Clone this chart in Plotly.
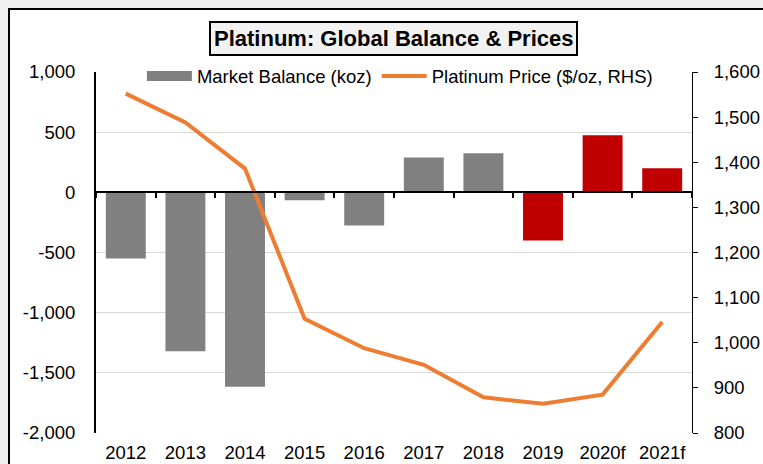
import plotly.graph_objects as go

categories = ["2012", "2013", "2014", "2015", "2016", "2017", "2018", "2019", "2020f", "2021f"]
balance = [-550, -1320, -1615, -65, -275, 290, 325, -400, 475, 200]
bar_colors = ["#808080"] * 7 + ["#c00000"] * 3
price = [1552, 1488, 1386, 1053, 988, 951, 879, 865, 885, 1046]

left_ticks = [-2000, -1500, -1000, -500, 0, 500, 1000]
left_labels = ["-2,000", "-1,500", "-1,000", "-500", "0", "500", "1,000"]
right_ticks = [800, 900, 1000, 1100, 1200, 1300, 1400, 1500, 1600]
right_labels = ["800", "900", "1,000", "1,100", "1,200", "1,300", "1,400", "1,500", "1,600"]

left_range = [-2000, 1000]
right_range = [800, 1600]

FONT = "Liberation Sans, Arial, sans-serif"
FS = 18.5

fig = go.Figure()
fig.add_trace(go.Bar(
    x=categories, y=balance, name="Market Balance (koz)",
    marker=dict(color=bar_colors, line=dict(width=0)),
    xaxis="x", yaxis="y", showlegend=False,
))
# legend-only entry giving the wide rectangular swatch for the bars
fig.add_trace(go.Scatter(
    x=[None], y=[None], name="Market Balance (koz)", mode="lines",
    line=dict(color="#808080", width=11), xaxis="x", yaxis="y",
    hoverinfo="skip", legendrank=1,
))
fig.add_trace(go.Scatter(
    x=categories, y=price, name="Platinum Price ($/oz, RHS)",
    mode="lines", line=dict(color="#ed7d31", width=4),
    xaxis="x", yaxis="y2", legendrank=2,
))
# helper trace for the zero-line category axis
fig.add_trace(go.Scatter(
    x=categories, y=[0] * len(categories), mode="lines", opacity=0,
    showlegend=False, hoverinfo="skip", xaxis="x2", yaxis="y",
))

zero_pos = (0 - left_range[0]) / (left_range[1] - left_range[0])

fig.update_layout(
    width=763, height=464,
    margin=dict(l=96, r=71, t=72, b=31, autoexpand=False),
    paper_bgcolor="#f0f0f0",
    plot_bgcolor="rgba(0,0,0,0)",
    font=dict(family=FONT, size=FS, color="#000000"),
    bargap=0.33,
    showlegend=True,
    legend=dict(
        orientation="h", x=0.077, y=1.04, xanchor="left", yanchor="top",
        bgcolor="rgba(0,0,0,0)", font=dict(size=FS, family=FONT),
        itemwidth=45, tracegroupgap=0,
    ),
    xaxis=dict(
        type="category", categoryorder="array", categoryarray=categories,
        range=[-0.5, len(categories) - 0.5], automargin=False,
        showline=False, showgrid=False, ticks="", zeroline=False,
        tickfont=dict(size=FS), ticklabelstandoff=6,
    ),
    xaxis2=dict(
        type="category", categoryorder="array", categoryarray=categories,
        range=[-0.5, len(categories) - 0.5], automargin=False,
        overlaying="x", anchor="free", position=zero_pos, side="bottom",
        showline=True, linecolor="#000000", linewidth=2,
        ticks="outside", tickson="boundaries", ticklen=5, tickcolor="#000000", tickwidth=2,
        showticklabels=False, showgrid=False, zeroline=False,
    ),
    yaxis=dict(
        range=left_range, tickmode="array", tickvals=left_ticks, ticktext=left_labels,
        showgrid=True, gridcolor="#d9d9d9", gridwidth=1, automargin=False,
        showline=True, linecolor="#000000", linewidth=2,
        ticks="", zeroline=False, tickfont=dict(size=FS), ticklabelstandoff=15,
    ),
    yaxis2=dict(
        range=right_range, tickmode="array", tickvals=right_ticks, ticktext=right_labels,
        overlaying="y", side="right", anchor="x", automargin=False,
        showgrid=False, showline=True, linecolor="#000000", linewidth=1,
        ticks="outside", ticklen=5, tickcolor="#000000",
        zeroline=False, tickfont=dict(size=FS), ticklabelstandoff=12,
    ),
    shapes=[dict(
        type="rect", xref="paper", yref="paper",
        x0=(9 - 96) / 596, x1=1.3, y0=-0.3, y1=1 + (72 - 9) / 361,
        fillcolor="#ffffff", line=dict(color="#000000", width=2), layer="below",
    )],
    annotations=[dict(
        text="<b>Platinum: Global Balance & Prices</b>",
        xref="paper", yref="paper", x=(393 - 96) / 596, y=1 + (72 - 38) / 361,
        xanchor="center", yanchor="middle", showarrow=False,
        font=dict(size=22, family=FONT, color="#000000"),
        bgcolor="#f2f2f2", bordercolor="#000000", borderwidth=2, borderpad=3,
    )],
)

fig.write_html("out.html")
